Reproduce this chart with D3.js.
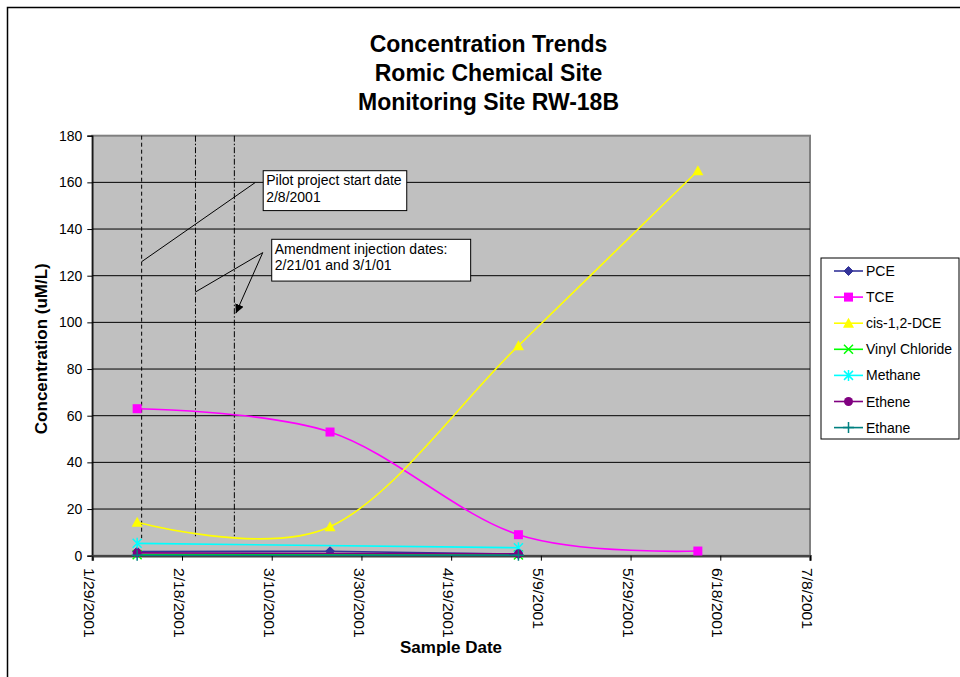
<!DOCTYPE html>
<html>
<head>
<meta charset="utf-8">
<script src="https://cdn.jsdelivr.net/npm/d3@7"></script>
<style>
  html, body { margin: 0; padding: 0; background: #ffffff; }
  svg { display: block; }
  text { font-family: "Liberation Sans", Arial, sans-serif; }
</style>
</head>
<body>
<svg id="chart" width="960" height="677"></svg>
<script>
// ---------------- DATA ----------------
const titleLines = ["Concentration Trends", "Romic Chemical Site", "Monitoring Site RW-18B"];
const sampleDates = ["2001-02-08", "2001-03-23", "2001-05-04", "2001-06-13"];
const pce     = [1.8, 1.9, 0.6, null];
const tce     = [63, 53, 9, 2];
const dce     = [14.3, 12.4, 90, 165];
const vinyl   = [0.4, null, 0.3, null];
const methane = [5.3, null, 3.4, null];
const ethene  = [1.2, null, 0.8, null];
const ethane  = [0.2, null, 0.2, null];
const seriesNames = ["PCE", "TCE", "cis-1,2-DCE", "Vinyl Chloride", "Methane", "Ethene", "Ethane"];
const xTickLabels = ["1/29/2001", "2/18/2001", "3/10/2001", "3/30/2001", "4/19/2001", "5/9/2001", "5/29/2001", "6/18/2001", "7/8/2001"];
const yTickValues = [0, 20, 40, 60, 80, 100, 120, 140, 160, 180];
// annotation vertical lines (dates) and their lower end (value)
const eventDates = ["2001-02-09T00:00", "2001-02-21T00:00", "2001-03-01T16:00"];
const eventLineBottom = 7.5;
// annotation boxes (day offsets from 1/29/2001 and values)
const noteTexts = [["Pilot project start date", "2/8/2001"], ["Amendment injection dates:", "2/21/01 and 3/1/01"]];
const noteBoxDays = [[38.1, 70.1], [40.0, 84.35]];
const noteBoxVals = [[165, 147.9], [135.6, 117.7]];
// pointer lines
const pointerFromDay = [36.3, 38.0, 38.0];
const pointerFromVal = [159.9, 129.9, 129.9];
const pointerToDay   = [11.0, 22.9, 32.0];
const pointerToVal   = [126.0, 112.9, 103.9];
const pointerArrow   = [false, false, true];

// ---------------- STYLE ----------------
const colors  = ["#333399", "#FF00FF", "#FFFF00", "#00FF00", "#00FFFF", "#800080", "#008080"];
const markers = ["diamond", "square", "triangle", "x", "asterisk", "circle", "plus"];
const smooth  = [false, true, true, false, false, false, false];
const FONT = "'Liberation Sans', Arial, sans-serif";

const svg = d3.select("#chart");
const parseUtc = s => new Date(s.length > 10 ? s + "Z" : s + "T00:00Z");
const xStart = parseUtc("2001-01-29"), xEnd = parseUtc("2001-07-08");
const plot = { left: 92.3, right: 810, top: 135.7, bottom: 555.7 };

const x = d3.scaleUtc().domain([xStart, xEnd]).range([plot.left, plot.right]);
const y = d3.scaleLinear().domain([0, 180]).range([plot.bottom, plot.top]);
const dayX = d => x(new Date(xStart.getTime() + d * 864e5));

// outer chart border
svg.append("rect").attr("x", 7.5).attr("y", 7.5).attr("width", 1000).attr("height", 1000)
  .attr("fill", "none").attr("stroke", "#000").attr("stroke-width", 1.5);

// title
svg.append("g").selectAll("text").data(titleLines).join("text")
  .attr("x", 488.5).attr("y", (d, i) => 52 + i * 29.2)
  .attr("text-anchor", "middle").attr("font-size", 23).attr("font-weight", "bold")
  .text(d => d);

// plot background
svg.append("rect").attr("x", plot.left).attr("y", plot.top)
  .attr("width", plot.right - plot.left).attr("height", plot.bottom - plot.top)
  .attr("fill", "#C0C0C0").attr("stroke", "#808080").attr("stroke-width", 2);

// gridlines
svg.append("g").selectAll("line").data(yTickValues.filter(v => v > 0 && v < 180)).join("line")
  .attr("x1", plot.left).attr("x2", plot.right)
  .attr("y1", d => y(d)).attr("y2", d => y(d))
  .attr("stroke", "#000").attr("stroke-width", 1);

// y axis
const yAxis = svg.append("g").attr("transform", `translate(${plot.left},0)`)
  .call(d3.axisLeft(y).tickValues(yTickValues).tickSize(5).tickPadding(5));
yAxis.select(".domain").attr("stroke", "#000").attr("stroke-width", 1.2);
yAxis.selectAll(".tick line").attr("stroke", "#000");
yAxis.selectAll(".tick text").attr("font-family", FONT).attr("font-size", 14).attr("fill", "#000");

// x axis
const xTickDates = xTickLabels.map(s => { const p = s.split("/"); return new Date(Date.UTC(+p[2], +p[0] - 1, +p[1])); });
const xAxis = svg.append("g").attr("transform", `translate(0,${plot.bottom})`)
  .call(d3.axisBottom(x).tickValues(xTickDates).tickSize(5).tickFormat((d, i) => xTickLabels[i]));
xAxis.select(".domain").attr("stroke", "#444").attr("stroke-width", 2.5);
xAxis.selectAll(".tick line").attr("stroke", "#000");
xAxis.selectAll(".tick text")
  .attr("font-family", FONT).attr("font-size", 14).attr("fill", "#000")
  .attr("text-anchor", "start").attr("transform", "rotate(90) scale(1.12,1)")
  .attr("x", 11).attr("y", 3.5).attr("dy", "0.35em");

// axis titles
svg.append("text").attr("transform", `translate(47,${(plot.top + plot.bottom) / 2 + 3}) rotate(-90)`)
  .attr("text-anchor", "middle").attr("font-size", 17).attr("font-weight", "bold")
  .text("Concentration (uM/L)");
svg.append("text").attr("x", 451).attr("y", 653)
  .attr("text-anchor", "middle").attr("font-size", 17).attr("font-weight", "bold")
  .text("Sample Date");

// event vertical lines
const eventDash = ["4,3", "6,2,1.5,2", "6,2,1.5,2"];
svg.append("g").selectAll("line").data(eventDates).join("line")
  .attr("x1", d => x(parseUtc(d))).attr("x2", d => x(parseUtc(d)))
  .attr("y1", y(180)).attr("y2", y(eventLineBottom))
  .attr("stroke", "#000").attr("stroke-width", 1)
  .attr("stroke-dasharray", (d, i) => eventDash[i]);

// series
const seriesValues = [pce, tce, dce, vinyl, methane, ethene, ethane];
const dates = sampleDates.map(parseUtc);

function drawMarker(g, type, color) {
  const s = 4.5;
  switch (type) {
    case "diamond":
      g.append("path").attr("d", `M0,${-s}L${s},0L0,${s}L${-s},0Z`).attr("fill", color).attr("stroke", color); break;
    case "square":
      g.append("rect").attr("x", -s).attr("y", -s).attr("width", 2 * s).attr("height", 2 * s).attr("fill", color); break;
    case "triangle":
      g.append("path").attr("d", `M0,${-s - 1}L${s + 1},${s}L${-s - 1},${s}Z`).attr("fill", color); break;
    case "x":
      g.append("path").attr("d", `M${-s},${-s}L${s},${s}M${-s},${s}L${s},${-s}`).attr("stroke", color).attr("stroke-width", 1.5); break;
    case "asterisk":
      g.append("path").attr("d", `M${-s},${-s}L${s},${s}M${-s},${s}L${s},${-s}M0,${-s - 1}L0,${s + 1}`).attr("stroke", color).attr("stroke-width", 1.5); break;
    case "circle":
      g.append("circle").attr("r", s).attr("fill", color); break;
    case "plus":
      g.append("path").attr("d", `M${-s - 1},0L${s + 1},0M0,${-s - 1}L0,${s + 1}`).attr("stroke", color).attr("stroke-width", 1.5); break;
  }
}

seriesValues.forEach((vals, si) => {
  const pts = vals.map((v, i) => ({ d: dates[i], v })).filter(p => p.v !== null);
  const line = d3.line().x(p => x(p.d)).y(p => y(p.v))
    .curve(smooth[si] ? d3.curveCardinal.tension(0) : d3.curveLinear);
  const g = svg.append("g");
  g.append("path").datum(pts).attr("d", line)
    .attr("fill", "none").attr("stroke", colors[si]).attr("stroke-width", 1.6);
  g.selectAll("g.m").data(pts).join("g").attr("class", "m")
    .attr("transform", p => `translate(${x(p.d)},${y(p.v)})`)
    .each(function () { drawMarker(d3.select(this), markers[si], colors[si]); });
});

// annotations: pointer lines
svg.append("defs").append("marker").attr("id", "arrow")
  .attr("viewBox", "0 0 10 10").attr("refX", 10).attr("refY", 5)
  .attr("markerWidth", 9).attr("markerHeight", 9).attr("markerUnits", "userSpaceOnUse")
  .attr("orient", "auto")
  .append("path").attr("d", "M0,0L10,5L0,10Z").attr("fill", "#000");

svg.append("g").selectAll("line").data(pointerFromDay).join("line")
  .attr("x1", (d, i) => dayX(pointerFromDay[i])).attr("y1", (d, i) => y(pointerFromVal[i]))
  .attr("x2", (d, i) => dayX(pointerToDay[i])).attr("y2", (d, i) => y(pointerToVal[i]))
  .attr("stroke", "#000").attr("stroke-width", 1)
  .attr("marker-end", (d, i) => pointerArrow[i] ? "url(#arrow)" : null);

// annotation boxes
noteTexts.forEach((lines, i) => {
  const x0 = dayX(noteBoxDays[i][0]), x1 = dayX(noteBoxDays[i][1]);
  const y0 = y(noteBoxVals[i][0]), y1 = y(noteBoxVals[i][1]);
  svg.append("rect").attr("x", x0).attr("y", y0).attr("width", x1 - x0).attr("height", y1 - y0)
    .attr("fill", "#fff").attr("stroke", "#000").attr("stroke-width", 1);
  svg.append("g").selectAll("text").data(lines).join("text")
    .attr("x", x0 + 3).attr("y", (d, j) => y0 + 14.5 + j * 16.3)
    .attr("font-size", 14).text(d => d);
});

// legend
const legend = { left: 821, top: 258, right: 959, bottom: 439, firstY: 271, step: 26.1 };
svg.append("rect").attr("x", legend.left).attr("y", legend.top)
  .attr("width", legend.right - legend.left).attr("height", legend.bottom - legend.top)
  .attr("fill", "#fff").attr("stroke", "#000").attr("stroke-width", 1);
seriesNames.forEach((name, i) => {
  const ly = legend.firstY + i * legend.step;
  const g = svg.append("g").attr("transform", `translate(0,${ly})`);
  g.append("line").attr("x1", 834).attr("x2", 863).attr("y1", 0).attr("y2", 0)
    .attr("stroke", colors[i]).attr("stroke-width", 1.6);
  const mg = g.append("g").attr("transform", "translate(848.5,0)");
  drawMarker(mg, markers[i], colors[i]);
  g.append("text").attr("x", 866).attr("y", 0).attr("dy", "0.36em")
    .attr("font-size", 14).text(name);
});
</script>
</body>
</html>
